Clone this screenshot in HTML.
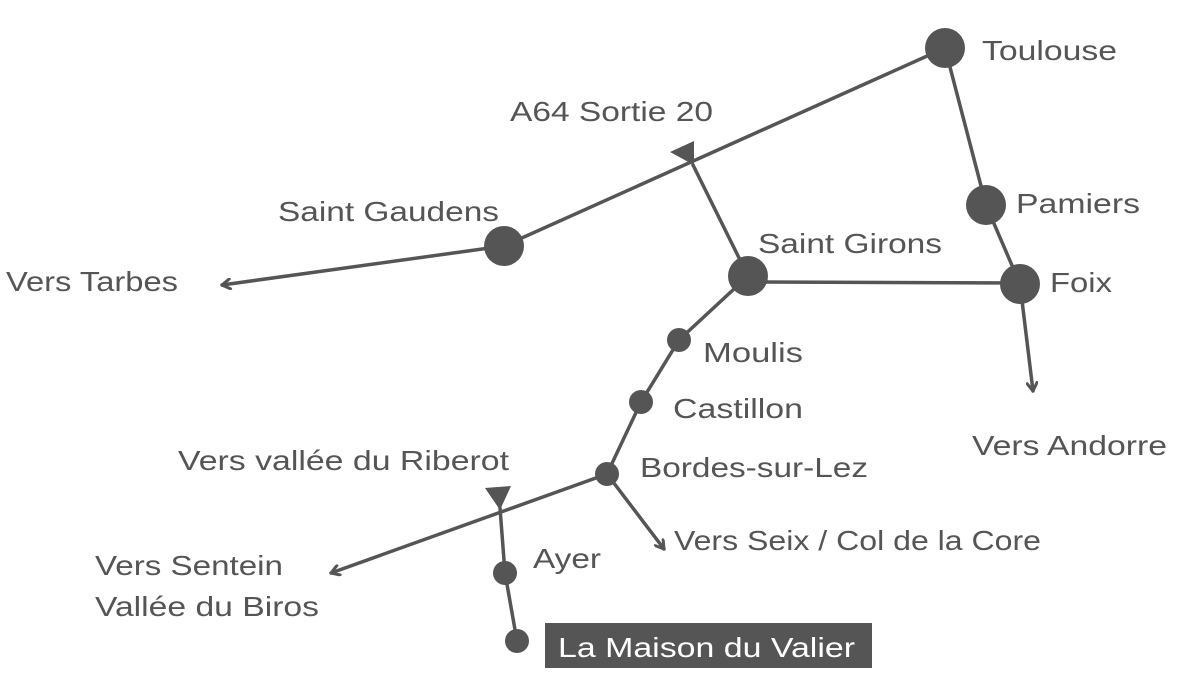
<!DOCTYPE html>
<html><head><meta charset="utf-8"><style>
html,body{margin:0;padding:0;background:#fff;}
svg{display:block;}
text{font-family:"Liberation Sans",sans-serif;font-size:28px;fill:#555;}
</style></head><body>
<svg width="1180" height="696" viewBox="0 0 1180 696" xmlns="http://www.w3.org/2000/svg">
<defs>
<marker id="a" viewBox="0 0 12 12" refX="10" refY="6" markerWidth="12" markerHeight="12" markerUnits="userSpaceOnUse" orient="auto">
<polyline points="2,1 10,6 2,11" fill="none" stroke="#555" stroke-width="3" stroke-linecap="round" stroke-linejoin="round"/>
</marker>
</defs>
<g stroke="#555" stroke-width="3.5" fill="none" stroke-linecap="round">
<line x1="945" y1="48" x2="504" y2="246"/>
<line x1="504" y1="246" x2="222" y2="285" marker-end="url(#a)"/>
<line x1="693" y1="165" x2="748" y2="276"/>
<line x1="748" y1="282" x2="1020" y2="283"/>
<polyline points="945,48 986,205 1020,284"/>
<line x1="1020" y1="284" x2="1033" y2="391" marker-end="url(#a)"/>
<polyline points="748,276 679,340 641,402 607,474"/>
<line x1="607" y1="474" x2="331" y2="573" marker-end="url(#a)"/>
<line x1="607" y1="474" x2="664" y2="549" marker-end="url(#a)"/>
<polyline points="500,508 505,573 517,641"/>
</g>
<g fill="#555">
<polygon points="670,152 694,141 694,165"/>
<polygon points="485,488 511,486 500,510"/>
<circle cx="945" cy="48" r="20"/>
<circle cx="986" cy="205" r="20"/>
<circle cx="1020" cy="284" r="20"/>
<circle cx="748" cy="276" r="20"/>
<circle cx="504" cy="246" r="20"/>
<circle cx="679" cy="340" r="12"/>
<circle cx="641" cy="402" r="12"/>
<circle cx="607" cy="474" r="12"/>
<circle cx="505" cy="573" r="12"/>
<circle cx="517" cy="641" r="12"/>
<rect x="545" y="623" width="327" height="45"/>
</g>
<g lengthAdjust="spacingAndGlyphs">
<text lengthAdjust="spacingAndGlyphs" x="982" y="60" textLength="135">Toulouse</text>
<text lengthAdjust="spacingAndGlyphs" x="510" y="121" textLength="203">A64 Sortie 20</text>
<text lengthAdjust="spacingAndGlyphs" x="278" y="221" textLength="221">Saint Gaudens</text>
<text lengthAdjust="spacingAndGlyphs" x="6" y="291" textLength="172">Vers Tarbes</text>
<text lengthAdjust="spacingAndGlyphs" x="1016" y="213" textLength="124">Pamiers</text>
<text lengthAdjust="spacingAndGlyphs" x="758" y="253" textLength="184">Saint Girons</text>
<text lengthAdjust="spacingAndGlyphs" x="1050" y="292" textLength="62">Foix</text>
<text lengthAdjust="spacingAndGlyphs" x="703" y="362" textLength="100">Moulis</text>
<text lengthAdjust="spacingAndGlyphs" x="673" y="418" textLength="130">Castillon</text>
<text lengthAdjust="spacingAndGlyphs" x="972" y="455" textLength="195">Vers Andorre</text>
<text lengthAdjust="spacingAndGlyphs" x="178" y="470" textLength="331">Vers vallée du Riberot</text>
<text lengthAdjust="spacingAndGlyphs" x="640" y="477" textLength="228">Bordes-sur-Lez</text>
<text lengthAdjust="spacingAndGlyphs" x="674" y="550" textLength="367">Vers Seix / Col de la Core</text>
<text lengthAdjust="spacingAndGlyphs" x="95" y="575" textLength="188">Vers Sentein</text>
<text lengthAdjust="spacingAndGlyphs" x="95" y="616" textLength="224">Vallée du Biros</text>
<text lengthAdjust="spacingAndGlyphs" x="533" y="568" textLength="68">Ayer</text>
<text lengthAdjust="spacingAndGlyphs" x="558" y="657" textLength="297" style="fill:#fff">La Maison du Valier</text>
</g>
</svg>
</body></html>
